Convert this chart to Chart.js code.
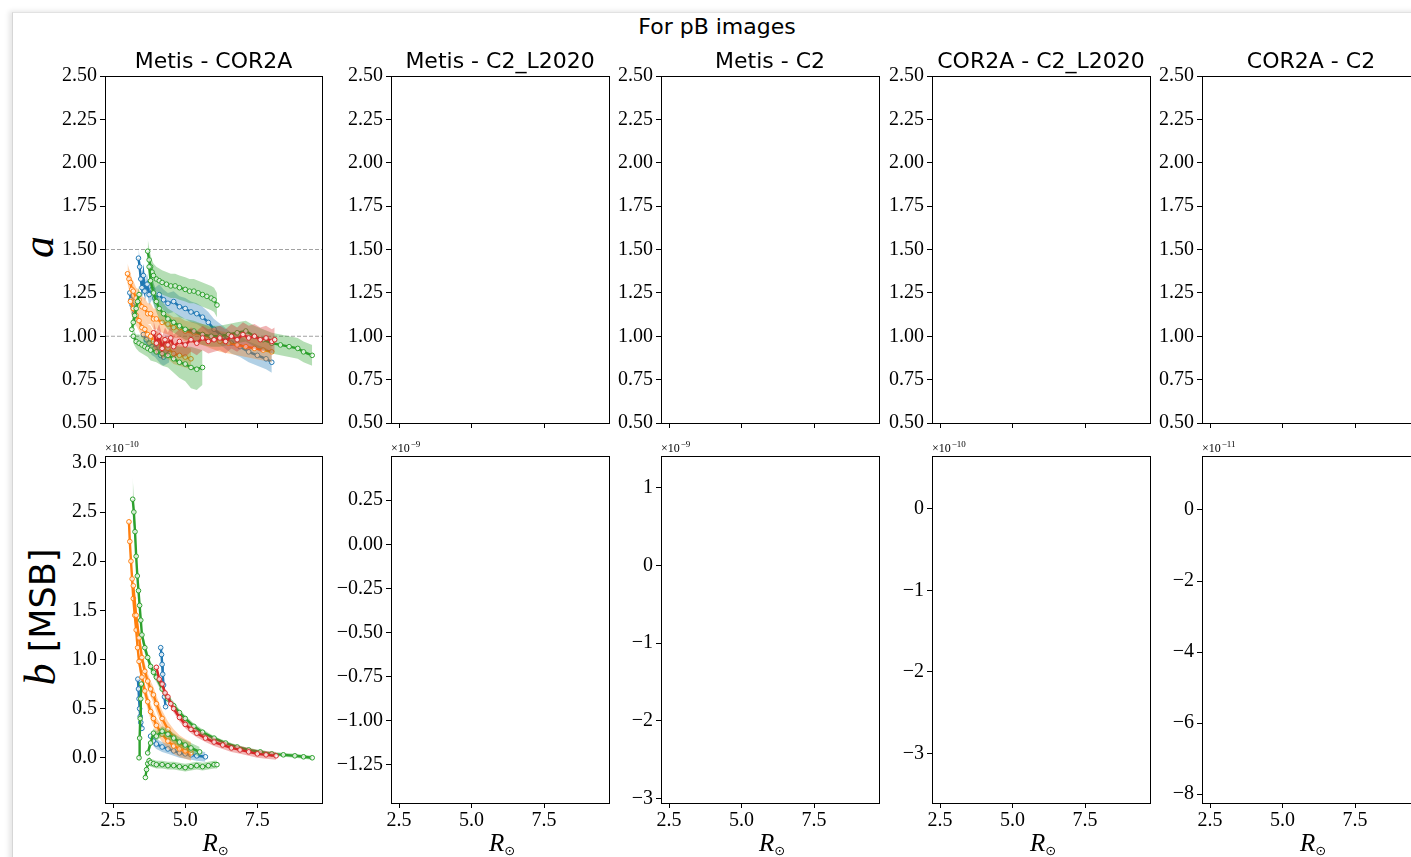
<!DOCTYPE html>
<html>
<head>
<meta charset="utf-8">
<script src="https://cdn.jsdelivr.net/npm/chart.js@4.4.1/dist/chart.umd.min.js"></script>
<style>
  html, body { margin: 0; padding: 0; background: #fff; width: 1411px; height: 857px; overflow: hidden; }
  #frame { position: absolute; left: 12px; top: 12px; width: 1420px; height: 860px;
           border-left: 1px solid #d6d6d6; border-top: 1px solid #e2e2e2;
           box-shadow: -3px -1px 5px rgba(0,0,0,0.10); }
  .box { position: absolute; }
  #suptitle { position: absolute; left: 0; width: 1434px; top: 14px; text-align: center;
              font: 22px "DejaVu Sans"; line-height: 26px; color: #000; }
  .ylab { position: absolute; transform: translate(-50%, -50%) rotate(-90deg); white-space: nowrap; color: #000; }
</style>
</head>
<body>
<div id="frame"></div>
<div id="suptitle">For pB images</div>
<div class="ylab" style="left:38px; top:247px; font: italic 44px 'Liberation Serif';">a</div>
<div class="ylab" style="left:40px; top:617px;"><span style="font: italic 44px 'Liberation Serif';">b</span><span style="font: 35px 'DejaVu Sans';"> [MSB]</span></div>

<script>
// ---- axes, ticks, titles ----
const xMin = 2.22, xMax = 9.74;
const xTicks = [2.5, 5.0, 7.5];
const titles = ['Metis - COR2A', 'Metis - C2_L2020', 'Metis - C2', 'COR2A - C2_L2020', 'COR2A - C2'];
const aMin = 0.5, aMax = 2.5;
const aTicks = [0.5, 0.75, 1.0, 1.25, 1.5, 1.75, 2.0, 2.25, 2.5];
const bMins = [-0.46, -1.466, -3.06, -3.61, -8.25];
const bMaxs = [3.07, 0.5, 1.41, 0.65, 1.52];
const bTicks = [
  [0, 0.5, 1, 1.5, 2, 2.5, 3],
  [-1.25, -1, -0.75, -0.5, -0.25, 0, 0.25],
  [-3, -2, -1, 0, 1],
  [-3, -2, -1, 0],
  [-8, -6, -4, -2, 0]
];
const bDecimals = [1, 2, 0, 0, 0];
const bExponents = ['\u221210', '\u22129', '\u22129', '\u221210', '\u221211'];

// ---- panel Metis - COR2A, a vs R ----
const hLevels = [1.5, 1.0];

const blueA1R = [3.38,3.42,3.46,3.50,3.55,3.60,3.68,3.75,3.85,3.95,4.10,4.25,4.40,4.60,4.80,5.00,5.20,5.40,5.60,5.80,6.00,6.30,6.60,6.90,7.20,7.50,7.80,8.00];
const blueA1V = [1.45,1.40,1.33,1.28,1.35,1.26,1.30,1.24,1.27,1.22,1.24,1.21,1.19,1.20,1.17,1.16,1.14,1.13,1.11,1.08,1.04,1.00,0.96,0.94,0.91,0.89,0.87,0.85];
const blueA2R = [3.08,3.12,3.16,3.20,3.24,3.28];
const blueA2V = [1.25,1.21,1.18,1.16,1.13,1.10];
const blueA3R = [3.55,3.65,3.75,3.85,3.95,4.05,4.15,4.25,4.35,4.45];
const blueA3V = [1.01,0.98,0.96,0.94,0.93,0.91,0.89,0.88,0.89,0.90];

const orA1R = [3.00,3.05,3.10,3.15,3.20,3.30,3.40,3.50,3.60,3.70,3.80,3.90,4.00,4.20,4.40,4.60,4.80,5.00,5.30,5.60,5.90,6.20,6.50,6.80,7.10,7.40,7.70,8.00];
const orA1V = [1.36,1.33,1.31,1.27,1.26,1.22,1.21,1.17,1.16,1.13,1.13,1.10,1.10,1.08,1.07,1.05,1.05,1.03,1.02,1.01,0.99,0.97,0.96,0.95,0.94,0.93,0.92,0.91];
const orA2R = [3.10,3.20,3.30,3.40,3.50,3.60,3.70,3.80,3.90,4.00,4.20,4.40,4.60,4.80,5.00,5.20];
const orA2V = [1.20,1.16,1.12,1.09,1.05,1.04,1.01,1.00,0.97,0.97,0.94,0.93,0.90,0.89,0.88,0.87];

const grA1R = [3.70,3.75,3.80,3.85,3.90,4.00,4.10,4.20,4.35,4.50,4.65,4.80,5.00,5.15,5.30,5.45,5.60,5.75,5.90,6.00,6.10];
const grA1V = [1.49,1.44,1.40,1.37,1.35,1.33,1.32,1.31,1.30,1.29,1.29,1.28,1.27,1.26,1.26,1.25,1.24,1.23,1.22,1.21,1.18];
const grA2R = [3.75,3.80,3.90,4.00,4.10,4.25,4.40,4.60,4.80,5.00,5.30,5.60,5.90,6.20,6.50,6.80,7.10,7.40,7.70,8.00,8.30,8.60,8.90,9.10,9.40];
const grA2V = [1.40,1.32,1.25,1.20,1.16,1.13,1.10,1.08,1.06,1.04,1.03,1.01,1.00,1.00,1.01,1.02,1.03,1.00,0.98,0.96,0.95,0.94,0.93,0.91,0.89];
const grA3R = [3.20,3.30,3.40,3.50,3.60,3.70,3.80,4.00,4.20,4.40,4.60,4.80,5.00,5.20,5.40,5.60];
const grA3V = [1.00,0.97,0.96,0.95,0.94,0.93,0.92,0.91,0.90,0.89,0.87,0.85,0.84,0.82,0.81,0.82];
const grA3E = [0.04,0.04,0.05,0.05,0.05,0.05,0.06,0.06,0.07,0.07,0.08,0.09,0.10,0.12,0.12,0.10];
const grA4R = [3.15,3.20,3.25,3.30,3.35,3.40];
const grA4V = [1.04,1.08,1.12,1.16,1.20,1.24];

const redAR = [3.90,4.00,4.10,4.20,4.30,4.40,4.50,4.60,4.80,5.00,5.20,5.40,5.60,5.80,6.00,6.20,6.40,6.60,6.80,7.00,7.20,7.40,7.60,7.80,8.00,8.10];
const redAV = [1.02,0.96,1.00,0.93,0.98,0.95,0.99,0.94,0.97,0.95,0.98,0.96,0.99,0.97,0.98,0.99,0.97,1.00,0.98,1.01,0.99,1.00,0.98,0.99,0.97,0.98];

// ---- panel Metis - COR2A, b vs R (x1e-10) ----
const blueB1R = [3.36,3.38,3.40,3.42,3.44,3.46,3.50];
const blueB1V = [0.80,0.70,0.60,0.50,0.42,0.36,0.30];
const blueB2R = [4.15,4.18,4.20,4.22,4.25,4.28,4.32];
const blueB2V = [1.12,1.05,0.95,0.85,0.74,0.62,0.52];
const blueB3R = [3.80,3.90,4.00,4.20,4.40,4.60,4.80,5.00,5.20,5.40,5.70];
const blueB3V = [0.22,0.17,0.14,0.11,0.09,0.07,0.05,0.04,0.03,0.02,0.01];

const orB1R = [3.05,3.08,3.12,3.16,3.20,3.25,3.30,3.35,3.40,3.50,3.60,3.70,3.80,3.90,4.00,4.20,4.40,4.60,4.80,5.00,5.20];
const orB1V = [2.40,2.20,2.00,1.82,1.62,1.45,1.30,1.12,0.98,0.82,0.68,0.57,0.47,0.40,0.33,0.24,0.17,0.12,0.09,0.07,0.05];
const orB2R = [3.20,3.30,3.40,3.50,3.60,3.70,3.80,3.90,4.00,4.20,4.40,4.60,4.80,5.00,5.20];
const orB2V = [1.75,1.45,1.22,1.02,0.88,0.78,0.70,0.64,0.55,0.40,0.29,0.21,0.15,0.11,0.08];

const grB1R = [3.18,3.22,3.26,3.30,3.34,3.38,3.42,3.46,3.50,3.60,3.70,3.80,3.90,4.00,4.20,4.40,4.60,4.80,5.00,5.30,5.60,6.00,6.40,6.80,7.20,7.60,8.00,8.40,8.80,9.10,9.40];
const grB1V = [2.63,2.50,2.30,2.05,1.85,1.70,1.55,1.40,1.25,1.12,1.02,0.93,0.87,0.82,0.70,0.60,0.53,0.46,0.40,0.32,0.26,0.20,0.15,0.11,0.08,0.06,0.04,0.03,0.02,0.01,0.00];
const grB1E = [0.22,0.15,0.12,0.10,0.08,0.08,0.07,0.07,0.06,0.06,0.05,0.05,0.05,0.05,0.04,0.04,0.04,0.03,0.03,0.03,0.03,0.02,0.02,0.02,0.02,0.02,0.02,0.02,0.02,0.02,0.02];
const grB2R = [3.62,3.66,3.70,3.75,3.80,3.90,4.00,4.20,4.40,4.60,4.80,5.00,5.20,5.40,5.60,5.80,6.00,6.10];
const grB2V = [-0.20,-0.12,-0.06,-0.03,-0.05,-0.06,-0.07,-0.07,-0.08,-0.08,-0.09,-0.10,-0.09,-0.08,-0.09,-0.08,-0.07,-0.07];
const grB3R = [3.40,3.42,3.44,3.46,3.48];
const grB3V = [0.00,0.20,0.40,0.60,0.75];
const grB4R = [3.70,3.80,3.90,4.00,4.20,4.40,4.60,4.80,5.00,5.20,5.50];
const grB4V = [0.05,0.15,0.25,0.22,0.27,0.24,0.20,0.16,0.13,0.10,0.06];

const redBR = [4.00,4.10,4.20,4.30,4.40,4.50,4.60,4.80,5.00,5.20,5.40,5.70,6.00,6.30,6.60,6.90,7.20,7.50,7.80,8.15];
const redBV = [0.92,0.80,0.75,0.66,0.62,0.55,0.50,0.41,0.34,0.29,0.25,0.20,0.16,0.13,0.10,0.08,0.06,0.04,0.03,0.02];

const C = { blue: '#1f77b4', orange: '#ff7f0e', green: '#2ca02c', red: '#d62728' };

const seriesA = [
  { r: blueA1R, v: blueA1V, err: 0.06, color: C.blue },
  { r: blueA2R, v: blueA2V, err: 0.05, color: C.blue },
  { r: blueA3R, v: blueA3V, err: 0.05, color: C.blue },
  { r: orA1R, v: orA1V, err: 0.06, color: C.orange },
  { r: orA2R, v: orA2V, err: 0.06, color: C.orange },
  { r: grA1R, v: grA1V, err: 0.07, color: C.green },
  { r: grA2R, v: grA2V, err: 0.06, color: C.green },
  { r: grA3R, v: grA3V, err: grA3E, color: C.green },
  { r: grA4R, v: grA4V, err: 0.05, color: C.green },
  { r: redAR, v: redAV, err: 0.07, color: C.red }
];
const seriesB = [
  { r: blueB1R, v: blueB1V, err: 0.05, color: C.blue },
  { r: blueB2R, v: blueB2V, err: 0.05, color: C.blue },
  { r: blueB3R, v: blueB3V, err: 0.05, color: C.blue },
  { r: orB1R, v: orB1V, err: 0.08, color: C.orange },
  { r: orB2R, v: orB2V, err: 0.08, color: C.orange },
  { r: grB1R, v: grB1V, err: grB1E, color: C.green },
  { r: grB2R, v: grB2V, err: 0.04, color: C.green },
  { r: grB3R, v: grB3V, err: 0.04, color: C.green },
  { r: grB4R, v: grB4V, err: 0.05, color: C.green },
  { r: redBR, v: redBV, err: 0.04, color: C.red }
];

// ---- layout of the subplot grid ----
const colLefts = [105, 391, 661, 932, 1202];
const rowTops = [76, 456];
const plotW = 218, plotH = 347;
const padL = 70, padT = 30, padR = 4, padB = 54;

function rgba(hex, a) {
  const n = parseInt(hex.slice(1), 16);
  return `rgba(${n >> 16},${(n >> 8) & 255},${n & 255},${a})`;
}

function buildDatasets(series, levels) {
  const ds = [];
  levels.forEach(y => ds.push({
    data: [{ x: xMin, y: y }, { x: xMax, y: y }],
    borderColor: '#8a8a8a', borderWidth: 0.8, borderDash: [4, 2], pointRadius: 0, fill: false
  }));
  series.forEach(s => {
    const e = i => Array.isArray(s.err) ? s.err[i] : s.err;
    ds.push({
      data: s.r.map((r, i) => ({ x: r, y: s.v[i] + e(i) })),
      borderColor: 'rgba(0,0,0,0)', borderWidth: 0, pointRadius: 0,
      fill: '+1', backgroundColor: rgba(s.color, 0.35)
    });
    ds.push({
      data: s.r.map((r, i) => ({ x: r, y: s.v[i] - e(i) })),
      borderColor: 'rgba(0,0,0,0)', borderWidth: 0, pointRadius: 0, fill: false
    });
    ds.push({
      data: s.r.map((r, i) => ({ x: r, y: s.v[i] })),
      borderColor: s.color, borderWidth: 2.4, fill: false,
      pointRadius: 2.3, pointBorderWidth: 1, pointBorderColor: s.color,
      pointBackgroundColor: 'rgba(255,255,255,0.8)'
    });
  });
  ds.forEach((d, k) => { d.order = -k; });
  return ds;
}

// spines, subplot titles, offset text and x label
const decor = {
  id: 'decor',
  afterDraw(chart, args, opts) {
    const ctx = chart.ctx, a = chart.chartArea;
    ctx.save();
    ctx.strokeStyle = '#000';
    ctx.lineWidth = 1;
    ctx.strokeRect(Math.round(a.left) + 0.5, Math.round(a.top) + 0.5, Math.round(a.right - a.left), Math.round(a.bottom - a.top));
    ctx.fillStyle = '#000';
    const cx = (a.left + a.right) / 2;
    if (opts.title) {
      ctx.font = '22px "DejaVu Sans"';
      ctx.textAlign = 'center';
      ctx.textBaseline = 'alphabetic';
      ctx.fillText(opts.title, cx, a.top - 8);
    }
    if (opts.exponent) {
      ctx.textAlign = 'left';
      ctx.font = '12px "Liberation Serif"';
      ctx.fillText('\u00d710', a.left, a.top - 4);
      const w = ctx.measureText('\u00d710').width;
      ctx.font = '9px "Liberation Serif"';
      ctx.fillText(opts.exponent, a.left + w + 1, a.top - 9);
    }
    if (opts.xlabel) {
      ctx.textAlign = 'left';
      ctx.font = 'italic 25px "Liberation Serif"';
      const rw = ctx.measureText('R').width;
      ctx.font = '13px "DejaVu Sans"';
      const sw = ctx.measureText('\u2299').width;
      const x0 = cx - (rw + sw) / 2 + 2;
      ctx.font = 'italic 25px "Liberation Serif"';
      ctx.fillText('R', x0, a.bottom + 48);
      ctx.font = '13px "DejaVu Sans"';
      ctx.fillText('\u2299', x0 + rw, a.bottom + 52);
    }
    ctx.restore();
  }
};

function fmt(v, d) {
  return v.toFixed(d).replace('-', '\u2212');
}

function axisStyle() {
  return {
    grid: { display: true, drawOnChartArea: false, drawTicks: true, tickLength: 5, tickWidth: 1, tickColor: '#000', color: '#000' },
    border: { display: true, color: '#000', width: 1 }
  };
}

function makeChart(row, col) {
  const left = colLefts[col] - padL, top = rowTops[row] - padT;
  const w = plotW + padL + padR, h = plotH + padT + padB;
  const box = document.createElement('div');
  box.className = 'box';
  box.style.left = left + 'px';
  box.style.top = top + 'px';
  const cv = document.createElement('canvas');
  cv.width = w; cv.height = h;
  cv.style.width = w + 'px'; cv.style.height = h + 'px';
  box.appendChild(cv);
  document.body.appendChild(box);

  const isA = row === 0;
  const yMin = isA ? aMin : bMins[col];
  const yMax = isA ? aMax : bMaxs[col];
  const yT = isA ? aTicks : bTicks[col];
  const dec = isA ? 2 : bDecimals[col];
  let datasets = [];
  if (col === 0) datasets = isA ? buildDatasets(seriesA, hLevels) : buildDatasets(seriesB, []);

  new Chart(cv, {
    type: 'line',
    data: { datasets: datasets },
    plugins: [decor],
    options: {
      responsive: false,
      devicePixelRatio: 1,
      animation: false,
      layout: { padding: { left: 0, top: padT, right: padR, bottom: 0 } },
      plugins: {
        legend: { display: false },
        tooltip: { enabled: false },
        decor: {
          title: isA ? titles[col] : null,
          exponent: isA ? null : bExponents[col],
          xlabel: !isA
        }
      },
      scales: {
        x: Object.assign({
          type: 'linear', min: xMin, max: xMax,
          afterFit: s => { s.height = padB; },
          afterBuildTicks: s => { s.ticks = xTicks.map(v => ({ value: v })); },
          ticks: {
            callback: v => isA ? '' : fmt(v, 1),
            font: { family: 'Liberation Serif', size: 20 }, color: '#000',
            padding: 1, maxRotation: 0, autoSkip: false
          }
        }, axisStyle()),
        y: Object.assign({
          type: 'linear', min: yMin, max: yMax,
          afterFit: s => { s.width = padL; },
          afterBuildTicks: s => { s.ticks = yT.map(v => ({ value: v })); },
          ticks: {
            callback: v => fmt(v, dec),
            font: { family: 'Liberation Serif', size: 20 }, color: '#000',
            padding: 3, autoSkip: false
          }
        }, axisStyle())
      }
    }
  });
}

for (let row = 0; row < 2; row++) {
  for (let col = 0; col < 5; col++) makeChart(row, col);
}
</script>
</body>
</html>
